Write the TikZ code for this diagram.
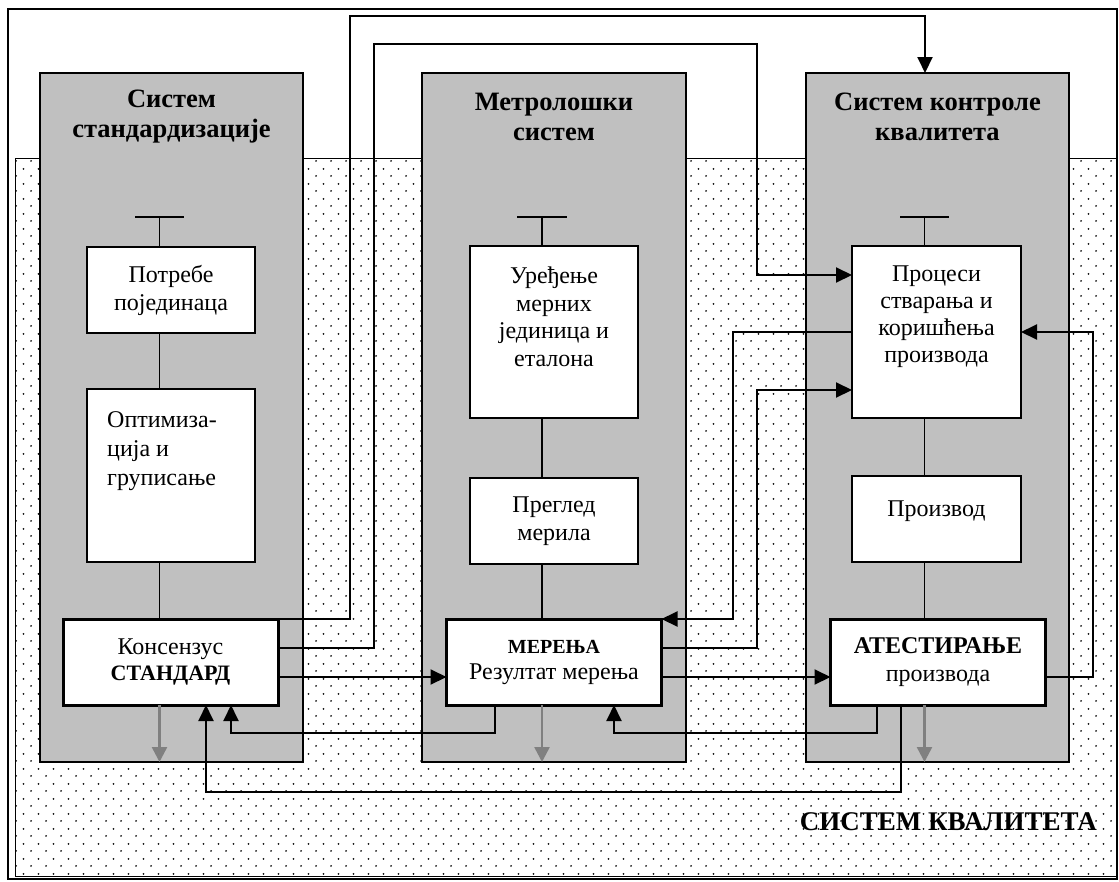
\documentclass[tikz,border=0pt]{standalone}
\usepackage{fontspec}
\setmainfont{Liberation Serif}
\usetikzlibrary{arrows.meta,patterns}
\pgfdeclarepatternformonly{qdots}{\pgfqpoint{0pt}{0pt}}{\pgfqpoint{15.4pt}{15pt}}{\pgfqpoint{15.4pt}{15pt}}{%
  \pgfpathcircle{\pgfqpoint{1.1pt}{1.1pt}}{1pt}%
  \pgfpathcircle{\pgfqpoint{8.8pt}{8.6pt}}{1pt}%
  \pgfusepath{fill}}
\definecolor{colgray}{HTML}{C0C0C0}
\definecolor{arrgray}{HTML}{808080}
\tikzset{
  column/.style={draw=black, line width=1.4pt, fill=colgray, inner sep=0pt, outer sep=0pt},
  inbox/.style={draw=black, line width=1.5pt, fill=white, inner sep=0pt, outer sep=0pt, align=center, font=\fontsize{24}{28}\selectfont},
  boxtext/.style={inner sep=0pt, align=center, font=\fontsize{24}{27.5}\selectfont},
  mainbox/.style={draw=black, line width=3pt, fill=white, inner sep=0pt, outer sep=0pt, align=center, minimum width=215pt, minimum height=86pt, font=\fontsize{24}{26}\selectfont},
  coltitle/.style={font=\bfseries\fontsize{26.5}{30}\selectfont, align=center, inner sep=0pt},
  link/.style={line width=2pt},
  arr/.style={link, -{Triangle[length=16pt,width=15pt]}},
  grayarr/.style={draw=arrgray, line width=2.5pt, -{Triangle[length=15pt,width=15pt]}},
  tlink/.style={line width=1.5pt},
}
\begin{document}
\begin{tikzpicture}[x=1pt,y=-1pt]
\useasboundingbox (0,0) rectangle (1119,881);
% outer frame and quality system area
\draw[line width=2.4pt] (8,9) rectangle (1117,879);
\path[pattern=qdots] (15,158) rectangle (1116,876);
\draw[line width=1pt] (15,158) rectangle (1116,876);
% columns
\node[column, minimum width=263pt, minimum height=689pt] (colL) at (171.5,417.5) {};
\node[column, minimum width=264pt, minimum height=689pt] (colM) at (554,417.5) {};
\node[column, minimum width=263pt, minimum height=689pt] (colC) at (937.5,417.5) {};
% titles
\node[coltitle] (tL) at (171.5,117) {Систем\\стандардизације};
\node[coltitle] (tM) at (554,117) {Метролошки\\систем};
\node[coltitle] (tC) at (937.5,117) {Систем контроле\\квалитета};
\node[font=\bfseries\fontsize{27}{30}\selectfont, anchor=base east, inner sep=0pt] (qs) at (1097,830) {СИСТЕМ КВАЛИТЕТА};
% inner boxes
\node[inbox, minimum width=168pt, minimum height=86pt] (potr) at (171,290) {Потребе\\појединаца};
\node[inbox, minimum width=168pt, minimum height=173pt] (opt) at (171,475.5) {};
\node[font=\fontsize{24}{29}\selectfont, align=left, anchor=north west, inner sep=0pt] (optT) at (107,411) {Оптимиза-\\ција и\\груписање};
\node[inbox, minimum width=168pt, minimum height=172pt] (ured) at (554,332) {};
\node[boxtext] (uredT) at (554,317) {Уређење\\мерних\\јединица и\\еталона};
\node[inbox, minimum width=168pt, minimum height=86pt] (pregl) at (554,521) {Преглед\\мерила};
\node[inbox, minimum width=169pt, minimum height=172pt] (proc) at (936.5,332) {};
\node[boxtext, font=\fontsize{24}{27}\selectfont] (procT) at (936.5,317) {Процеси\\стварања и\\коришћења\\производа};
\node[inbox, minimum width=169pt, minimum height=86pt] (proizv) at (936.5,519) {};
\node[boxtext] (proizvT) at (936.5,511) {Производ};
% main boxes
\node[mainbox] (kons) at (170.5,662) {Консензус\\{\fontsize{22}{26}\selectfont\bfseries СТАНДАРД}};
\node[mainbox] (mer) at (554,662) {{\fontsize{20}{26}\selectfont\bfseries МЕРЕЊА}\\Резултат мерења};
\node[mainbox, font=\fontsize{24}{28}\selectfont] (ates) at (938,662) {{\bfseries АТЕСТИРАЊЕ}\\производа};
% vertical links
\coordinate (vL) at (159.5,0);
\coordinate (vM) at (542,0);
\coordinate (vC) at (924.5,0);
\coordinate (TL) at (159.5,217);
\coordinate (TM) at (542,217);
\coordinate (TC) at (924.5,217);
\draw[tlink] ([xshift=-24.5pt]TL) -- ([xshift=24.5pt]TL);
\draw[tlink] ([xshift=-25pt]TM) -- ([xshift=25pt]TM);
\draw[tlink] ([xshift=-24.5pt]TC) -- ([xshift=24.5pt]TC);
\draw[tlink] (TL) -- (vL |- potr.north);
\draw[tlink] (vL |- potr.south) -- (vL |- opt.north);
\draw[tlink] (vL |- opt.south) -- (vL |- kons.north);
\draw[tlink] (TM) -- (vM |- ured.north);
\draw[tlink] (vM |- ured.south) -- (vM |- pregl.north);
\draw[tlink] (vM |- pregl.south) -- (vM |- mer.north);
\draw[tlink] (TC) -- (vC |- proc.north);
\draw[tlink] (vC |- proc.south) -- (vC |- proizv.north);
\draw[tlink] (vC |- proizv.south) -- (vC |- ates.north);
% gray down arrows
\draw[grayarr] (vL |- kons.south) -- (vL |- colL.south);
\draw[grayarr] (vM |- mer.south) -- (vM |- colM.south);
\draw[grayarr] (vC |- ates.south) -- (vC |- colC.south);
% connectors
\draw[arr] (kons.north east) -- (350,619) -- (350,16) -- (925,16) -- ([xshift=-12.5pt]colC.north);
\draw[arr] ([yshift=14pt]kons.east) -- (374,648) -- (374,44) -- (757,44) -- (757,275) -- ([yshift=57pt]proc.west);
\draw[arr] ([yshift=-15pt]kons.east) -- ([yshift=-15pt]mer.west);
\draw[arr] (proc.west) -- (733,332) -- (733,619) -- (mer.north east);
\draw[arr] ([yshift=14pt]mer.east) -- (757,648) -- (757,390) -- ([yshift=-58pt]proc.west);
\draw[arr] ([yshift=-15pt]mer.east) -- ([yshift=-15pt]ates.west);
\draw[arr] ([yshift=-15pt]ates.east) -- (1093,677) -- (1093,332) -- (proc.east);
\draw[arr] ([xshift=-59pt]mer.south) -- (495,733) -- (231,733) -- ([xshift=60.5pt]kons.south);
\draw[arr] ([xshift=-61pt]ates.south) -- (877,733) -- (614,733) -- ([xshift=60pt]mer.south);
\draw[arr] ([xshift=-37pt]ates.south) -- (901,792) -- (206,792) -- ([xshift=35.5pt]kons.south);
\end{tikzpicture}
\end{document}
